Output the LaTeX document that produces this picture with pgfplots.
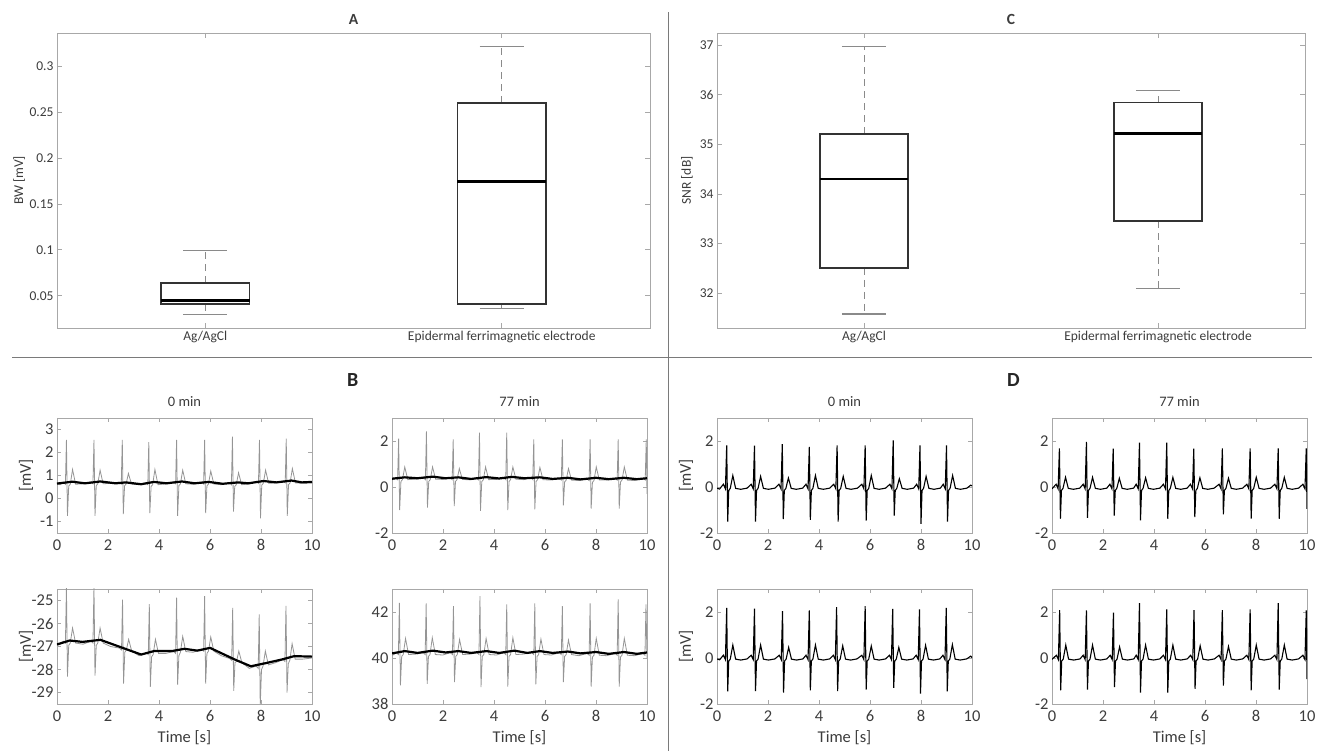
\documentclass[border=0pt]{standalone}
\usepackage{pgfplots}
\pgfplotsset{compat=1.18}
\usepackage{fontspec}
\setmainfont{Carlito}
\definecolor{txt}{HTML}{3C3C3C}
\definecolor{axc}{HTML}{A8A8A8}
\definecolor{boxc}{HTML}{333333}
\definecolor{whc}{HTML}{8A8A8A}
\definecolor{rawc}{HTML}{959595}
\definecolor{sepc}{HTML}{7A7A7A}
\pgfplotsset{
  base/.style={scale only axis, anchor=south west,
    axis line style={draw=axc, line width=0.9pt},
    every tick/.style={draw=axc, line width=0.8pt},
    tick align=inside, xtick pos=both, ytick pos=both,
    major tick length=5pt,
    /pgf/number format/assume math mode=true,
    tick label style={text=txt},
    label style={text=txt},
    title style={text=txt},
  },
  topax/.style={base, width=593pt, height=295pt, xmin=0.5, xmax=2.5,
    xtick={1,2}, xticklabels={Ag/AgCl, Epidermal ferrimagnetic electrode},
    tick label style={font=\fontsize{13.5}{16}\selectfont},
    label style={font=\fontsize{13.5}{16}\selectfont},
    title style={font=\fontsize{15.5}{18}\selectfont\bfseries, at={(axis description cs:0.5,1)}, anchor=base, yshift=2pt},
  },
  ecg/.style={base, width=255pt, height=115pt, xmin=0, xmax=10, xtick={0,2,...,10},
    tick label style={font=\fontsize{16.5}{19}\selectfont},
    xticklabel style={yshift=-3pt},
    label style={font=\fontsize{16.5}{19}\selectfont},
    title style={font=\fontsize{14.5}{17}\selectfont, at={(axis description cs:0.5,1)}, anchor=base, yshift=5pt},
    major tick length=4pt,
  },
  whisk/.style={draw=whc, line width=1pt, dash pattern=on 7pt off 5pt},
  cap/.style={draw=whc, line width=1.2pt},
  boxl/.style={draw=boxc, line width=1.5pt, line join=miter, line cap=rect},
  med/.style={draw=black, line width=2.8pt},
  rawline/.style={draw=rawc, line width=0.8pt},
  baseln/.style={draw=black, line width=2.2pt},
  dline/.style={draw=black, line width=1.1pt},
  mvlabel/.style={ylabel={[mV]}, ylabel style={at={(axis description cs:-0.1216,0.5)}, anchor=center}},
  timelabel/.style={xlabel={Time [s]}, xlabel style={at={(axis description cs:0.5,-0.339)}, anchor=base}},
}
\begin{document}
\begin{tikzpicture}
\useasboundingbox (0,0) rectangle (1325pt,751pt);
% separators
\draw[sepc, line width=1pt] (668pt,0pt) -- (668pt,739pt);
\draw[sepc, line width=1pt] (12pt,393pt) -- (1312pt,393pt);
\node[anchor=base west, font=\fontsize{20}{24}\selectfont\bfseries, text=black!85, inner sep=0pt] at (347pt,364pt) {B};
\node[anchor=base west, font=\fontsize{20}{24}\selectfont\bfseries, text=black!85, inner sep=0pt] at (1007pt,364pt) {D};

% ---------- A ----------
\begin{axis}[topax, at={(57pt,423pt)}, title={A}, ymin=0.015, ymax=0.336,
  ytick={0.05,0.1,0.15,0.2,0.25,0.3}, yticklabels={0.05,0.1,0.15,0.2,0.25,0.3},
  ylabel={BW [mV]}, ylabel style={at={(axis description cs:-0.064,0.5)}, anchor=center}]
% Ag/AgCl
\addplot[whisk] coordinates {(1,0.064) (1,0.099)};
\addplot[whisk] coordinates {(1,0.041) (1,0.030)};
\addplot[cap] coordinates {(0.925,0.099) (1.075,0.099)};
\addplot[cap] coordinates {(0.925,0.030) (1.075,0.030)};
\addplot[boxl] coordinates {(0.85,0.041) (1.15,0.041) (1.15,0.064) (0.85,0.064) (0.85,0.041) (1.15,0.041)};
\addplot[med] coordinates {(0.85,0.0446) (1.15,0.0446)};
% Epidermal
\addplot[whisk] coordinates {(2,0.260) (2,0.321)};
\addplot[whisk] coordinates {(2,0.041) (2,0.036)};
\addplot[cap] coordinates {(1.925,0.321) (2.075,0.321)};
\addplot[cap] coordinates {(1.925,0.036) (2.075,0.036)};
\addplot[boxl] coordinates {(1.85,0.041) (2.15,0.041) (2.15,0.260) (1.85,0.260) (1.85,0.041) (2.15,0.041)};
\addplot[med] coordinates {(1.85,0.174) (2.15,0.174)};
\end{axis}

% ---------- C ----------
\begin{axis}[topax, at={(717pt,423pt)}, width=588pt, title={C}, ymin=31.3, ymax=37.24,
  ytick={32,33,34,35,36,37},
  ylabel={SNR [dB]}, ylabel style={at={(axis description cs:-0.051,0.5)}, anchor=center}]
% Ag/AgCl
\addplot[whisk] coordinates {(1,35.21) (1,36.97)};
\addplot[whisk] coordinates {(1,32.51) (1,31.58)};
\addplot[cap] coordinates {(0.925,36.97) (1.075,36.97)};
\addplot[cap] coordinates {(0.925,31.58) (1.075,31.58)};
\addplot[boxl] coordinates {(0.85,32.51) (1.15,32.51) (1.15,35.21) (0.85,35.21) (0.85,32.51) (1.15,32.51)};
\addplot[med] coordinates {(0.85,34.30) (1.15,34.30)};
% Epidermal
\addplot[whisk] coordinates {(2,35.84) (2,36.08)};
\addplot[whisk] coordinates {(2,33.45) (2,32.09)};
\addplot[cap] coordinates {(1.925,36.08) (2.075,36.08)};
\addplot[cap] coordinates {(1.925,32.09) (2.075,32.09)};
\addplot[boxl] coordinates {(1.85,33.45) (2.15,33.45) (2.15,35.84) (1.85,35.84) (1.85,33.45) (2.15,33.45)};
\addplot[med] coordinates {(1.85,35.22) (2.15,35.22)};
\end{axis}

% ---------- B top-left ----------
\begin{axis}[ecg, mvlabel, at={(57pt,218pt)}, title={0 min}, ymin=-1.5, ymax=3.5, ytick={-1,0,1,2,3}]
\addplot[rawline] coordinates {
(0,0.64)(0.12,0.60)
(0.25,0.70)(0.33,0.62)(0.37,2.55)(0.41,-0.76)(0.46,0.54)(0.52,0.62)(0.61,1.26)(0.73,0.62)(1.02,0.64)
(1.33,0.72)(1.41,0.64)(1.45,2.55)(1.49,-0.76)(1.54,0.56)(1.60,0.64)(1.69,1.23)(1.81,0.64)(2.10,0.66)
(2.44,0.71)(2.52,0.63)(2.56,2.55)(2.60,-0.68)(2.65,0.55)(2.71,0.63)(2.80,1.09)(2.92,0.63)(3.21,0.60)
(3.48,0.68)(3.56,0.60)(3.60,2.45)(3.64,-0.64)(3.69,0.52)(3.75,0.60)(3.84,1.26)(3.96,0.60)(4.25,0.63)
(4.57,0.72)(4.65,0.64)(4.69,2.55)(4.73,-0.76)(4.78,0.56)(4.84,0.64)(4.93,1.23)(5.05,0.64)(5.34,0.62)
(5.67,0.71)(5.75,0.63)(5.79,2.55)(5.83,-0.64)(5.88,0.55)(5.94,0.63)(6.03,1.19)(6.15,0.63)(6.44,0.60)
(6.76,0.68)(6.84,0.60)(6.88,2.69)(6.92,-0.57)(6.97,0.52)(7.03,0.60)(7.12,1.12)(7.24,0.60)(7.53,0.63)
(7.82,0.74)(7.90,0.66)(7.94,2.55)(7.98,-0.86)(8.03,0.58)(8.09,0.66)(8.18,1.23)(8.30,0.66)(8.59,0.68)
(8.87,0.76)(8.95,0.68)(8.99,2.60)(9.03,-0.76)(9.08,0.60)(9.14,0.68)(9.23,1.30)(9.35,0.68)(9.64,0.66)(10,0.68)};
\addplot[baseln] coordinates {(0,0.65)(0.6,0.73)(1.1,0.66)(1.7,0.74)(2.3,0.66)(2.7,0.70)(3.3,0.62)(3.8,0.72)(4.3,0.66)(4.9,0.74)(5.4,0.66)(5.95,0.72)(6.5,0.64)(7.1,0.70)(7.5,0.66)(8.1,0.76)(8.6,0.70)(9.2,0.78)(9.6,0.70)(10,0.72)};
\end{axis}

% ---------- B top-right ----------
\begin{axis}[ecg, at={(392pt,218pt)}, title={77 min}, ymin=-2, ymax=3, ytick={-2,0,2}]
\addplot[rawline] coordinates {
(0,0.30)(0.14,0.40)(0.22,0.32)(0.26,2.10)(0.30,-1.01)(0.35,0.24)(0.41,0.32)(0.50,0.87)(0.62,0.32)(0.91,0.34)
(1.23,0.40)(1.31,0.32)(1.35,2.42)(1.39,-0.90)(1.44,0.24)(1.50,0.32)(1.59,0.87)(1.71,0.34)(2.00,0.33)
(2.28,0.40)(2.36,0.32)(2.40,2.07)(2.44,-0.83)(2.49,0.24)(2.55,0.32)(2.64,0.80)(2.76,0.33)(3.05,0.31)
(3.31,0.39)(3.39,0.31)(3.43,2.36)(3.47,-1.04)(3.52,0.23)(3.58,0.31)(3.67,0.87)(3.79,0.32)(4.08,0.33)
(4.38,0.40)(4.46,0.32)(4.50,2.36)(4.54,-1.01)(4.59,0.24)(4.65,0.32)(4.74,0.87)(4.86,0.34)(5.15,0.32)
(5.44,0.40)(5.52,0.32)(5.56,2.07)(5.60,-0.97)(5.65,0.24)(5.71,0.32)(5.80,0.85)(5.92,0.32)(6.21,0.30)
(6.56,0.38)(6.64,0.30)(6.68,2.07)(6.72,-0.80)(6.77,0.22)(6.83,0.30)(6.92,0.80)(7.04,0.30)(7.33,0.28)
(7.65,0.36)(7.73,0.28)(7.77,2.07)(7.81,-0.94)(7.86,0.20)(7.92,0.28)(8.01,0.87)(8.13,0.30)(8.42,0.30)
(8.75,0.38)(8.83,0.30)(8.87,2.07)(8.91,-0.94)(8.96,0.22)(9.02,0.30)(9.11,0.87)(9.23,0.30)(9.52,0.28)
(9.85,0.38)(9.93,0.30)(9.97,2.07)(10,-0.30)};
\addplot[baseln] coordinates {(0,0.36)(0.5,0.42)(1.0,0.38)(1.6,0.45)(2.1,0.38)(2.6,0.42)(3.1,0.35)(3.7,0.43)(4.2,0.37)(4.7,0.44)(5.2,0.38)(5.8,0.42)(6.3,0.35)(6.9,0.40)(7.4,0.33)(8.0,0.40)(8.5,0.34)(9.1,0.40)(9.6,0.34)(10,0.38)};
\end{axis}

% ---------- B bottom-left ----------
\begin{axis}[ecg, mvlabel, timelabel, at={(57pt,47pt)}, ymin=-29.5, ymax=-24.5, ytick={-29,-28,-27,-26,-25}]
\addplot[rawline] coordinates {
(0,-26.95)(0.12,-26.90)
(0.25,-26.77)(0.33,-26.85)(0.37,-24.40)(0.41,-28.31)(0.46,-26.95)(0.52,-26.85)(0.61,-26.20)(0.73,-26.85)(1.02,-26.90)
(1.33,-26.77)(1.41,-26.85)(1.45,-24.40)(1.49,-28.27)(1.54,-26.95)(1.60,-26.85)(1.69,-26.20)(1.81,-26.85)(2.10,-27.00)
(2.45,-27.07)(2.53,-27.15)(2.57,-24.96)(2.61,-28.61)(2.66,-27.25)(2.72,-27.15)(2.81,-26.69)(2.93,-27.20)(3.22,-27.40)
(3.50,-27.27)(3.58,-27.35)(3.62,-25.16)(3.66,-28.75)(3.71,-27.45)(3.77,-27.35)(3.86,-26.69)(3.98,-27.30)(4.27,-27.30)
(4.57,-27.22)(4.65,-27.30)(4.69,-24.88)(4.73,-28.66)(4.78,-27.40)(4.84,-27.25)(4.93,-26.56)(5.05,-27.22)(5.34,-27.25)
(5.67,-27.12)(5.75,-27.20)(5.79,-24.81)(5.83,-28.61)(5.88,-27.30)(5.94,-27.20)(6.03,-26.59)(6.15,-27.20)(6.44,-27.40)
(6.77,-27.52)(6.85,-27.60)(6.89,-25.32)(6.93,-28.93)(6.98,-27.70)(7.04,-27.65)(7.13,-27.20)(7.25,-27.70)(7.54,-27.95)
(7.81,-27.85)(7.89,-27.95)(7.93,-25.60)(7.97,-29.60)(8.02,-28.00)(8.08,-27.85)(8.17,-27.20)(8.29,-27.80)(8.58,-27.70)
(8.86,-27.57)(8.94,-27.65)(8.98,-25.23)(9.02,-29.00)(9.07,-27.75)(9.13,-27.60)(9.22,-26.88)(9.34,-27.55)(9.63,-27.55)(10,-27.50)};
\addplot[baseln] coordinates {(0,-26.91)(0.5,-26.74)(1.0,-26.80)(1.7,-26.71)(2.5,-27.03)(3.3,-27.35)(3.8,-27.20)(4.5,-27.20)(5.0,-27.10)(5.5,-27.18)(6.0,-27.06)(6.5,-27.32)(7.0,-27.58)(7.6,-27.86)(8.2,-27.72)(8.8,-27.57)(9.3,-27.42)(10,-27.44)};
\end{axis}

% ---------- B bottom-right ----------
\begin{axis}[ecg, timelabel, at={(392pt,47pt)}, ymin=38, ymax=43, ytick={38,40,42}]
\addplot[rawline] coordinates {
(0,40.10)(0.17,40.23)(0.25,40.15)(0.29,42.40)(0.33,38.81)(0.38,40.07)(0.44,40.15)(0.53,40.85)(0.65,40.15)(0.94,40.17)
(1.22,40.23)(1.30,40.15)(1.34,42.37)(1.38,38.88)(1.43,40.07)(1.49,40.15)(1.58,40.88)(1.70,40.15)(1.99,40.13)
(2.29,40.23)(2.37,40.15)(2.41,42.26)(2.45,38.95)(2.50,40.07)(2.56,40.15)(2.65,40.80)(2.77,40.15)(3.06,40.17)
(3.33,40.23)(3.41,40.15)(3.45,42.69)(3.49,38.73)(3.54,40.07)(3.60,40.15)(3.69,40.85)(3.81,40.15)(4.10,40.13)
(4.38,40.23)(4.46,40.15)(4.50,42.33)(4.54,38.76)(4.59,40.07)(4.65,40.15)(4.74,40.88)(4.86,40.15)(5.15,40.17)
(5.48,40.23)(5.56,40.15)(5.60,42.37)(5.64,38.85)(5.69,40.07)(5.75,40.15)(5.84,40.82)(5.96,40.15)(6.25,40.13)
(6.56,40.23)(6.64,40.15)(6.68,42.26)(6.72,38.95)(6.77,40.07)(6.83,40.15)(6.92,40.78)(7.04,40.15)(7.33,40.10)
(7.65,40.20)(7.73,40.12)(7.77,42.37)(7.81,38.76)(7.86,40.04)(7.92,40.12)(8.01,40.85)(8.13,40.12)(8.42,40.10)
(8.75,40.20)(8.83,40.12)(8.87,42.55)(8.91,38.76)(8.96,40.04)(9.02,40.12)(9.11,40.85)(9.23,40.12)(9.52,40.10)
(9.84,40.20)(9.92,40.12)(9.96,42.33)(10,40.00)};
\addplot[baseln] coordinates {(0,40.20)(0.5,40.30)(1.0,40.22)(1.6,40.32)(2.1,40.24)(2.6,40.30)(3.1,40.22)(3.7,40.30)(4.2,40.22)(4.8,40.32)(5.3,40.22)(5.8,40.30)(6.3,40.22)(6.9,40.28)(7.4,40.20)(8.0,40.26)(8.5,40.18)(9.1,40.26)(9.6,40.18)(10,40.24)};
\end{axis}

% ---------- D top-left ----------
\begin{axis}[ecg, mvlabel, at={(717pt,218pt)}, title={0 min}, ymin=-2, ymax=3, ytick={-2,0,2}]
\addplot[dline] coordinates {
(0,-0.05)(0.10,-0.09)
(0.25,0.12)(0.33,-0.08)(0.38,1.81)(0.42,-1.50)(0.46,-0.15)(0.52,-0.06)(0.62,0.50)(0.73,-0.06)(0.93,-0.10)(1.18,-0.05)
(1.34,0.12)(1.42,-0.08)(1.47,1.80)(1.51,-1.50)(1.55,-0.15)(1.61,-0.06)(1.71,0.46)(1.82,-0.06)(2.02,-0.10)(2.27,-0.05)
(2.43,0.12)(2.51,-0.08)(2.56,1.86)(2.60,-1.40)(2.64,-0.15)(2.70,-0.06)(2.80,0.39)(2.91,-0.06)(3.11,-0.10)(3.36,-0.05)
(3.49,0.12)(3.57,-0.08)(3.62,1.74)(3.66,-1.43)(3.70,-0.15)(3.76,-0.06)(3.86,0.50)(3.97,-0.06)(4.17,-0.10)(4.42,-0.05)
(4.58,0.12)(4.66,-0.08)(4.71,1.81)(4.75,-1.50)(4.79,-0.15)(4.85,-0.06)(4.95,0.46)(5.06,-0.06)(5.26,-0.10)(5.51,-0.05)
(5.68,0.12)(5.76,-0.08)(5.81,1.81)(5.85,-1.46)(5.89,-0.15)(5.95,-0.06)(6.05,0.50)(6.16,-0.06)(6.36,-0.10)(6.61,-0.05)
(6.78,0.12)(6.86,-0.08)(6.91,2.03)(6.95,-1.24)(6.99,-0.15)(7.05,-0.06)(7.15,0.36)(7.26,-0.06)(7.46,-0.10)(7.71,-0.05)
(7.83,0.12)(7.91,-0.08)(7.96,1.81)(8.00,-1.60)(8.04,-0.15)(8.10,-0.06)(8.20,0.46)(8.31,-0.06)(8.51,-0.10)(8.76,-0.05)
(8.87,0.12)(8.95,-0.08)(9.00,1.81)(9.04,-1.50)(9.08,-0.15)(9.14,-0.06)(9.24,0.50)(9.35,-0.06)(9.55,-0.10)(9.80,-0.05)(9.95,0.08)(10,0.05)};
\end{axis}

% ---------- D top-right ----------
\begin{axis}[ecg, at={(1052pt,218pt)}, title={77 min}, ymin=-2, ymax=3, ytick={-2,0,2}]
\addplot[dline] coordinates {
(0,-0.08)(0.16,0.12)(0.24,-0.08)(0.29,1.68)(0.33,-1.38)(0.37,-0.15)(0.43,-0.06)(0.53,0.42)(0.64,-0.06)(0.84,-0.10)(1.09,-0.05)
(1.22,0.12)(1.30,-0.08)(1.35,1.96)(1.39,-1.34)(1.43,-0.15)(1.49,-0.06)(1.59,0.42)(1.70,-0.06)(1.90,-0.10)(2.15,-0.05)
(2.27,0.12)(2.35,-0.08)(2.40,1.67)(2.44,-1.24)(2.48,-0.15)(2.54,-0.06)(2.64,0.38)(2.75,-0.06)(2.95,-0.10)(3.20,-0.05)
(3.30,0.12)(3.38,-0.08)(3.43,1.93)(3.47,-1.45)(3.51,-0.15)(3.57,-0.06)(3.67,0.40)(3.78,-0.06)(3.98,-0.10)(4.23,-0.05)
(4.37,0.12)(4.45,-0.08)(4.50,1.93)(4.54,-1.38)(4.58,-0.15)(4.64,-0.06)(4.74,0.42)(4.85,-0.06)(5.05,-0.10)(5.30,-0.05)
(5.43,0.12)(5.51,-0.08)(5.56,1.67)(5.60,-1.31)(5.64,-0.15)(5.70,-0.06)(5.80,0.40)(5.91,-0.06)(6.11,-0.10)(6.36,-0.05)
(6.55,0.12)(6.63,-0.08)(6.68,1.68)(6.72,-1.19)(6.76,-0.15)(6.82,-0.06)(6.92,0.38)(7.03,-0.06)(7.23,-0.10)(7.48,-0.05)
(7.64,0.12)(7.72,-0.08)(7.77,1.68)(7.81,-1.38)(7.85,-0.15)(7.91,-0.06)(8.01,0.42)(8.12,-0.06)(8.32,-0.10)(8.57,-0.05)
(8.74,0.12)(8.82,-0.08)(8.87,1.68)(8.91,-1.38)(8.95,-0.15)(9.01,-0.06)(9.11,0.42)(9.22,-0.06)(9.42,-0.10)(9.67,-0.05)
(9.84,0.12)(9.92,-0.08)(9.97,1.68)(10,-0.95)};
\end{axis}

% ---------- D bottom-left ----------
\begin{axis}[ecg, mvlabel, timelabel, at={(717pt,47pt)}, ymin=-2, ymax=3, ytick={-2,0,2}]
\addplot[dline] coordinates {
(0,-0.04)(0.10,-0.08)
(0.25,0.12)(0.33,-0.07)(0.38,2.18)(0.42,-1.45)(0.46,-0.13)(0.52,-0.05)(0.62,0.56)(0.73,-0.05)(0.93,-0.09)(1.18,-0.04)
(1.34,0.12)(1.42,-0.07)(1.47,2.15)(1.51,-1.44)(1.55,-0.13)(1.61,-0.05)(1.71,0.56)(1.82,-0.05)(2.02,-0.09)(2.27,-0.04)
(2.44,0.12)(2.52,-0.07)(2.57,2.04)(2.61,-1.51)(2.65,-0.13)(2.71,-0.05)(2.81,0.46)(2.92,-0.05)(3.12,-0.09)(3.37,-0.04)
(3.49,0.12)(3.57,-0.07)(3.62,2.07)(3.66,-1.41)(3.70,-0.13)(3.76,-0.05)(3.86,0.56)(3.97,-0.05)(4.17,-0.09)(4.42,-0.04)
(4.56,0.12)(4.64,-0.07)(4.69,2.21)(4.73,-1.44)(4.77,-0.13)(4.83,-0.05)(4.93,0.53)(5.04,-0.05)(5.24,-0.09)(5.49,-0.04)
(5.68,0.12)(5.76,-0.07)(5.81,2.25)(5.85,-1.37)(5.89,-0.13)(5.95,-0.05)(6.05,0.52)(6.16,-0.05)(6.36,-0.09)(6.61,-0.04)
(6.76,0.12)(6.84,-0.07)(6.89,2.14)(6.93,-1.30)(6.97,-0.13)(7.03,-0.05)(7.13,0.46)(7.24,-0.05)(7.44,-0.09)(7.69,-0.04)
(7.81,0.12)(7.89,-0.07)(7.94,2.11)(7.98,-1.55)(8.02,-0.13)(8.08,-0.05)(8.18,0.55)(8.29,-0.05)(8.49,-0.09)(8.74,-0.04)
(8.86,0.12)(8.94,-0.07)(8.99,2.18)(9.03,-1.45)(9.07,-0.13)(9.13,-0.05)(9.23,0.58)(9.34,-0.05)(9.54,-0.09)(9.79,-0.04)(9.95,0.08)(10,0.02)};
\end{axis}

% ---------- D bottom-right ----------
\begin{axis}[ecg, timelabel, at={(1052pt,47pt)}, ymin=-2, ymax=3, ytick={-2,0,2}]
\addplot[dline] coordinates {
(0,-0.06)(0.17,0.12)(0.25,-0.07)(0.30,2.08)(0.34,-1.41)(0.38,-0.13)(0.44,-0.05)(0.54,0.56)(0.65,-0.05)(0.85,-0.09)(1.10,-0.04)
(1.22,0.12)(1.30,-0.07)(1.35,2.07)(1.39,-1.37)(1.43,-0.13)(1.49,-0.05)(1.59,0.56)(1.70,-0.05)(1.90,-0.09)(2.15,-0.04)
(2.28,0.12)(2.36,-0.07)(2.41,1.97)(2.45,-1.27)(2.49,-0.13)(2.55,-0.05)(2.65,0.48)(2.76,-0.05)(2.96,-0.09)(3.21,-0.04)
(3.30,0.12)(3.38,-0.07)(3.43,2.39)(3.47,-1.51)(3.51,-0.13)(3.57,-0.05)(3.67,0.56)(3.78,-0.05)(3.98,-0.09)(4.23,-0.04)
(4.37,0.12)(4.45,-0.07)(4.50,2.11)(4.54,-1.51)(4.58,-0.13)(4.64,-0.05)(4.74,0.56)(4.85,-0.05)(5.05,-0.09)(5.30,-0.04)
(5.44,0.12)(5.52,-0.07)(5.57,2.08)(5.61,-1.34)(5.65,-0.13)(5.71,-0.05)(5.81,0.53)(5.92,-0.05)(6.12,-0.09)(6.37,-0.04)
(6.55,0.12)(6.63,-0.07)(6.68,2.08)(6.72,-1.20)(6.76,-0.13)(6.82,-0.05)(6.92,0.50)(7.03,-0.05)(7.23,-0.09)(7.48,-0.04)
(7.64,0.12)(7.72,-0.07)(7.77,2.11)(7.81,-1.41)(7.85,-0.13)(7.91,-0.05)(8.01,0.56)(8.12,-0.05)(8.32,-0.09)(8.57,-0.04)
(8.74,0.12)(8.82,-0.07)(8.87,2.39)(8.91,-1.37)(8.95,-0.13)(9.01,-0.05)(9.11,0.56)(9.22,-0.05)(9.42,-0.09)(9.67,-0.04)
(9.84,0.12)(9.92,-0.07)(9.97,2.07)(10,-0.92)};
\end{axis}
\end{tikzpicture}
\end{document}
